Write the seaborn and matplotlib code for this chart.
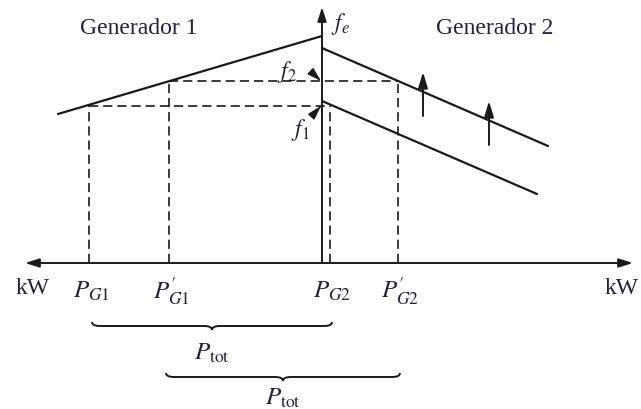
import matplotlib
matplotlib.use("Agg")
import matplotlib.pyplot as plt
import pandas as pd
import seaborn as sns
from matplotlib.path import Path
from matplotlib.patches import PathPatch

# Power positions on the kW axis and their labels
p_positions = [89, 169, 330, 398]
p_labels = [r"$P_{G1}$", r"$P^{\prime}_{G1}$", r"$P_{G2}$", r"$P^{\prime}_{G2}$"]
p_freq_index = [0, 1, 0, 1]          # which system frequency each point sits on

# System frequencies (height above the kW axis)
freq_levels = [157, 182]
freq_labels = [r"$f_1$", r"$f_2$"]

# Droop characteristics (end points)
gen1_x = [58, 322]
gen1_y = [149, 227]
gen2_old_x = [322, 537]
gen2_old_y = [162, 69]
gen2_new_x = [322, 548]
gen2_new_y = [215, 117]

# Set-point shift arrows on generator 2
shift_x = [423, 489]
shift_y0 = [147, 118]
shift_y1 = [191, 162]

# Total-power braces: (start, end) and level
tot_spans = [(92, 332), (166, 400)]
tot_levels = [-63, -114]

INK = "#1a1a1a"
TXT = "#22223a"

sns.set_theme(style="white")
plt.rcParams["font.family"] = ["Liberation Serif", "DejaVu Serif"]
plt.rcParams["mathtext.fontset"] = "stix"

fig = plt.figure(figsize=(6.41, 4.10), dpi=100)
ax = fig.add_axes([0, 0, 1, 1])
ax.set_xlim(0, 641)
ax.set_ylim(-146, 264)
ax.axis("off")

# Droop lines
droop = pd.concat([
    pd.DataFrame({"P": gen1_x, "f": gen1_y, "curve": "gen1"}),
    pd.DataFrame({"P": gen2_old_x, "f": gen2_old_y, "curve": "gen2_old"}),
    pd.DataFrame({"P": gen2_new_x, "f": gen2_new_y, "curve": "gen2_new"}),
])
sns.lineplot(data=droop, x="P", y="f", units="curve", estimator=None,
             sort=False, color=INK, lw=1.6, ax=ax, legend=False)

# Dashed projections: verticals to the axis, horizontals to the f axis
dash = (0, (5.5, 3))
for p, fi in zip(p_positions, p_freq_index):
    sns.lineplot(x=[p, p], y=[0, freq_levels[fi]], color=INK, lw=1.2,
                 linestyle=dash, estimator=None, sort=False, ax=ax)
for fi, f in enumerate(freq_levels):
    xs = [p for p, k in zip(p_positions, p_freq_index) if k == fi]
    sns.lineplot(x=[min(xs), max(xs)], y=[f, f], color=INK, lw=1.2,
                 linestyle=dash, estimator=None, sort=False, ax=ax)

# Axes with arrow heads
arr = dict(color=INK, lw=1.4, shrinkA=0, shrinkB=0)
ax.annotate("", xy=(633, 0), xytext=(25, 0),
            arrowprops=dict(arrowstyle="<|-|>,head_length=0.7,head_width=0.22", **arr))
ax.annotate("", xy=(322, 256), xytext=(322, 0),
            arrowprops=dict(arrowstyle="-|>,head_length=0.7,head_width=0.22", **arr))

# Set-point shift arrows
for x, y0, y1 in zip(shift_x, shift_y0, shift_y1):
    ax.annotate("", xy=(x, y1), xytext=(x, y0),
                arrowprops=dict(arrowstyle="-|>,head_length=0.8,head_width=0.24", **arr))

# Frequency labels with pointers
ax.annotate(freq_labels[1], xy=(321, freq_levels[1]), xytext=(287, 192),
            ha="center", va="center", fontsize=17, color=TXT,
            arrowprops=dict(arrowstyle="-|>,head_length=0.5,head_width=0.15",
                            color=INK, lw=1.0, shrinkA=7, shrinkB=0,
                            connectionstyle="arc3,rad=-0.25"))
ax.annotate(freq_labels[0], xy=(321, freq_levels[0]), xytext=(300, 134),
            ha="center", va="center", fontsize=17, color=TXT,
            arrowprops=dict(arrowstyle="-|>,head_length=0.5,head_width=0.15",
                            color=INK, lw=1.0, shrinkA=8, shrinkB=0))
ax.text(331, 240, r"$f_e$", ha="left", va="center", fontsize=17, color=TXT)

# Generator titles
ax.text(139, 236, "Generador 1", ha="center", va="center", fontsize=17, color=TXT)
ax.text(495, 236, "Generador 2", ha="center", va="center", fontsize=17, color=TXT)

# Axis labels
for p, lab in zip(p_positions, p_labels):
    ax.text(p + 2, -27, lab, ha="center", va="center", fontsize=18, color=TXT)
ax.text(33, -25, "kW", ha="center", va="center", fontsize=17, color=TXT)
ax.text(639, -25, "kW", ha="right", va="center", fontsize=17, color=TXT)


def brace(x0, x1, y, h=4):
    xm = (x0 + x1) / 2
    verts = [(x0, y + h), (x0, y), (x0 + 2 * h, y), (xm - 2 * h, y),
             (xm, y), (xm, y - h), (xm, y), (xm + 2 * h, y),
             (x1 - 2 * h, y), (x1, y), (x1, y + h)]
    codes = [Path.MOVETO, Path.CURVE3, Path.CURVE3, Path.LINETO,
             Path.CURVE3, Path.CURVE3, Path.CURVE3, Path.CURVE3,
             Path.LINETO, Path.CURVE3, Path.CURVE3]
    ax.add_patch(PathPatch(Path(verts, codes), fill=False, color=INK, lw=1.4))
    return xm


label_drop = [26, 20]
for (x0, x1), y, d in zip(tot_spans, tot_levels, label_drop):
    xm = brace(x0, x1, y)
    ax.text(xm, y - d, r"$P_{\rm tot}$", ha="center", va="center",
            fontsize=18, color=TXT)

fig.savefig("out.png", dpi=100)
